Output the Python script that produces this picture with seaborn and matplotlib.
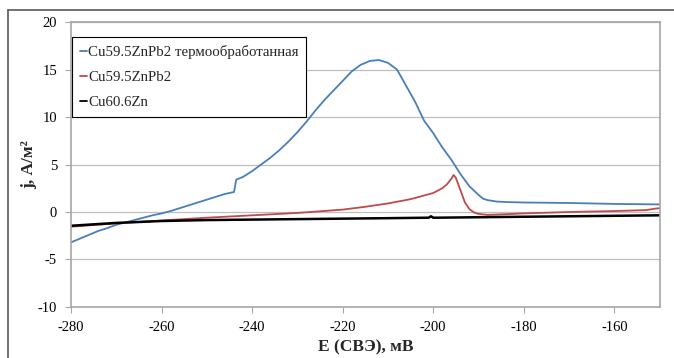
import matplotlib
matplotlib.use('Agg')
import matplotlib.pyplot as plt
import seaborn as sns
import pandas as pd
from matplotlib.lines import Line2D

# потенциал E (мВ) и плотность тока j (А/м2)
blue_E = [-280, -278, -276, -274, -272, -270, -268, -266, -264, -262, -260, -258, -256, -254,
          -252, -250, -248, -246, -244, -243.5, -242, -240, -238, -236, -234, -232, -230, -228,
          -226, -224, -222, -220, -218, -216, -214, -212, -210, -208, -206, -204, -202, -200,
          -198, -196, -194, -192, -190, -189, -188, -186, -184, -180, -170, -160, -150]
blue_j = [-3.2, -2.8, -2.4, -2.0, -1.7, -1.35, -1.1, -0.85, -0.6, -0.35, -0.15, 0.1, 0.4, 0.7,
          1.0, 1.3, 1.6, 1.9, 2.1, 3.4, 3.7, 4.3, 5.0, 5.7, 6.5, 7.4, 8.4, 9.5,
          10.7, 11.8, 12.8, 13.8, 14.8, 15.5, 15.9, 16.0, 15.7, 15.0, 13.3, 11.6, 9.6, 8.3,
          6.8, 5.5, 4.0, 2.7, 1.8, 1.4, 1.25, 1.1, 1.05, 1.0, 0.95, 0.85, 0.8]

red_E = [-280, -270, -260, -250, -240, -230, -220, -215, -210, -205, -200, -198, -197, -196,
         -195.5, -195, -194, -193, -192, -191, -190, -189, -188, -185, -180, -170, -160, -153,
         -151, -150]
red_j = [-1.55, -1.2, -0.9, -0.6, -0.35, -0.1, 0.25, 0.55, 0.9, 1.35, 2.0, 2.5, 2.9, 3.5,
         3.9, 3.6, 2.3, 1.0, 0.3, -0.05, -0.2, -0.25, -0.3, -0.25, -0.15, 0.0, 0.1, 0.2,
         0.35, 0.4]

black_E = [-280, -270, -260, -250, -240, -230, -220, -210, -201, -200.5, -200, -199, -190,
           -180, -170, -160, -150]
black_j = [-1.45, -1.15, -0.95, -0.85, -0.8, -0.75, -0.7, -0.65, -0.6, -0.45, -0.6, -0.6,
           -0.55, -0.5, -0.45, -0.4, -0.35]

labels = ['Cu59.5ZnPb2 термообработанная', 'Cu59.5ZnPb2', 'Cu60.6Zn']
colors = ['#4a7ebb', '#be4b48', '#000000']
xticks = [-280, -260, -240, -220, -200, -180, -160]
yticks = [-10, -5, 0, 5, 10, 15, 20]

sns.set_theme(style='whitegrid')
plt.rcParams['font.family'] = ['Liberation Serif', 'DejaVu Serif']
plt.rcParams['axes.unicode_minus'] = False

fig = plt.figure(figsize=(6.74, 3.58), dpi=100)
ax = fig.add_axes([0.1053, 0.1425, 0.8734, 0.796])

series = [(blue_E, blue_j), (red_E, red_j), (black_E, black_j)]
widths = [1.3, 1.3, 1.8]
for (E, j), c, lw in zip(series, colors, widths):
    sns.lineplot(x=E, y=j, color=c, linewidth=lw, ax=ax, sort=False)

ax.set_xlim(-280, -150)
ax.set_ylim(-10, 20)
ax.set_xticks(xticks)
ax.set_yticks(yticks)
ax.tick_params(axis='both', labelsize=10.5, labelcolor='#000000', color='#a6a6a6',
               length=4, width=0.8, direction='out', bottom=True, left=True)
ax.tick_params(axis='x', pad=6)
ax.tick_params(axis='y', pad=6)
ax.grid(True, color='#bfbfbf', linewidth=0.9)
ax.grid(False, axis='x')
for s in ax.spines.values():
    s.set_color('#a6a6a6')
    s.set_linewidth(1.2)
    s.set_visible(True)

ax.set_xlabel('E (СВЭ), мВ', fontsize=12.5, fontweight='bold')
ax.set_ylabel('j, А/м²', fontsize=12.5, fontweight='bold')
ax.xaxis.set_label_coords(0.5, -0.115)
ax.yaxis.set_label_coords(-0.058, 0.5)

handles = [Line2D([], [], color=c, linewidth=1.3) for c in colors]
leg = ax.legend(handles, labels, loc='upper left', bbox_to_anchor=(0.002, 0.947),
                borderaxespad=0, fancybox=False, framealpha=1, edgecolor='#000000',
                fontsize=10.7, handlelength=0.45, handletextpad=0.1, borderpad=0.52,
                labelspacing=0.8)
leg.get_frame().set_linewidth(0.8)

# внешняя рамка рисунка
fig.add_artist(Line2D([8 / 674, 1.0], [1 - 10 / 358, 1 - 10 / 358], color='#595959', linewidth=1.2))
fig.add_artist(Line2D([8 / 674, 8 / 674], [0.0, 1 - 10 / 358], color='#595959', linewidth=1.2))

fig.savefig('out.png', dpi=100)
